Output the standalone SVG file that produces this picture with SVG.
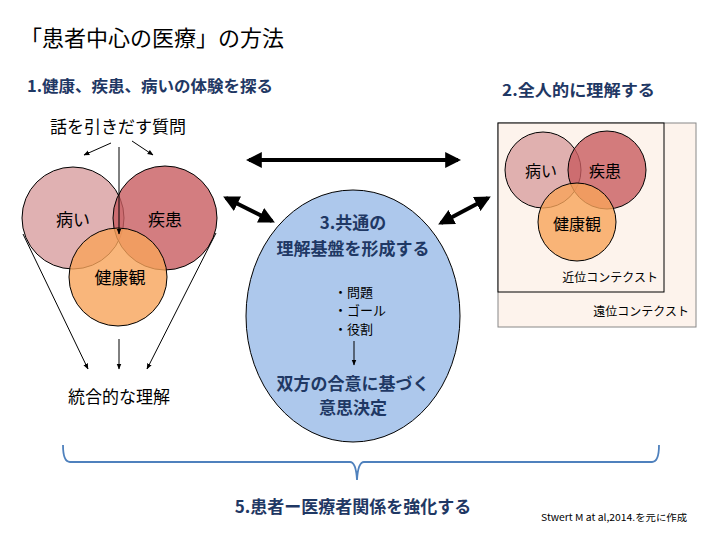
<svg xmlns="http://www.w3.org/2000/svg" width="720" height="540" viewBox="0 0 720 540">
<defs>
<style>
text{font-family:"Noto Sans CJK JP","Liberation Sans",sans-serif;}
.t{font-size:22px;fill:#000;}
.h{font-size:17px;font-weight:bold;fill:#1f3864;}
.b{font-size:17px;fill:#000;}
.r{font-size:16px;fill:#000;}
.s{font-size:13px;fill:#000;}
.c{font-size:12px;fill:#000;}
.thin{stroke:#000;stroke-width:1;fill:none;}
.thick{stroke:#000;stroke-width:4;fill:none;}
.ill{fill:#dba3a5;fill-opacity:0.85;stroke:#000;stroke-width:1;}
.dis{fill:#c85d60;fill-opacity:0.8;stroke:#000;stroke-width:1;}
.hea{fill:#f8a45a;fill-opacity:0.8;stroke:#000;stroke-width:1;}
</style>
<marker id="a" viewBox="0 0 10 10" refX="9" refY="5" markerWidth="6" markerHeight="6" orient="auto-start-reverse"><path d="M0,1 L10,5 L0,9 z" fill="#000"/></marker>
<marker id="A" viewBox="0 0 10 10" refX="8" refY="5" markerWidth="4" markerHeight="4" orient="auto-start-reverse"><path d="M0,0 L10,5 L0,10 z" fill="#000"/></marker>
</defs>
<rect width="720" height="540" fill="#fff"/>

<g id="title"><text class="t" x="20" y="46">「患者中心の医療」の方法</text></g>
<g id="head1"><text class="h" x="27" y="92" style="font-size:16px" textLength="246" lengthAdjust="spacingAndGlyphs">1.健康、疾患、病いの体験を探る</text></g>
<g id="head2"><text class="h" x="502" y="96" style="font-size:16px" textLength="153" lengthAdjust="spacingAndGlyphs">2.全人的に理解する</text></g>

<g id="question"><text class="b" x="118" y="133" text-anchor="middle">話を引きだす質問</text></g>

<g id="left-venn">
<circle class="ill" cx="73" cy="218" r="51"/>
<circle class="dis" cx="165" cy="218" r="52"/>
<circle class="hea" cx="118" cy="277" r="49"/>
<text class="b" x="73" y="226" text-anchor="middle">病い</text>
<text class="b" x="165" y="226" text-anchor="middle">疾患</text>
<text class="b" x="120" y="284" text-anchor="middle">健康観</text>
</g>

<g id="integrated"><text class="b" x="119" y="403" text-anchor="middle">統合的な理解</text></g>

<g id="center">
<ellipse cx="353" cy="316" rx="107" ry="126" fill="#adc8ec" stroke="#000" stroke-width="1"/>
<text class="h" x="353" y="229" text-anchor="middle">3.共通の</text>
<text class="h" x="353" y="255" text-anchor="middle">理解基盤を形成する</text>
<text class="s" x="334" y="297">・問題</text>
<text class="s" x="334" y="315">・ゴール</text>
<text class="s" x="334" y="334">・役割</text>
<text class="h" x="353" y="390" text-anchor="middle">双方の合意に基づく</text>
<text class="h" x="353" y="414" text-anchor="middle">意思決定</text>
</g>

<g id="context">
<rect x="498" y="123" width="198" height="204" fill="#fdf3ec" stroke="#888" stroke-width="1"/>
<rect x="498" y="123" width="166" height="169" fill="#fdf3ec" stroke="#000" stroke-width="1"/>
<circle class="ill" cx="543" cy="170" r="38"/>
<circle class="dis" cx="607" cy="170" r="39"/>
<circle class="hea" cx="577" cy="222" r="39"/>
<text class="r" x="541" y="177" text-anchor="middle">病い</text>
<text class="r" x="605" y="177" text-anchor="middle">疾患</text>
<text class="r" x="577" y="230" text-anchor="middle">健康観</text>
<text class="c" x="658" y="282" text-anchor="end">近位コンテクスト</text>
<text class="c" x="689" y="316" text-anchor="end">遠位コンテクスト</text>
</g>

<g id="connectors">
<line class="thin" x1="111" y1="143" x2="84" y2="155" marker-end="url(#a)"/>
<line class="thin" x1="132" y1="141" x2="153" y2="155" marker-end="url(#a)"/>
<line class="thin" x1="119" y1="147" x2="119" y2="234" marker-end="url(#a)"/>
<line class="thin" x1="23" y1="234" x2="88" y2="369" marker-end="url(#a)"/>
<line class="thin" x1="119" y1="339" x2="119" y2="369" marker-end="url(#a)"/>
<line class="thin" x1="216" y1="233" x2="147" y2="369" marker-end="url(#a)"/>
<line class="thin" x1="354" y1="341" x2="354" y2="365" marker-end="url(#a)"/>
<line class="thick" x1="249" y1="160" x2="458" y2="160" marker-start="url(#A)" marker-end="url(#A)"/>
<line class="thick" x1="226" y1="198" x2="272" y2="221" marker-start="url(#A)" marker-end="url(#A)"/>
<line class="thick" x1="488" y1="198" x2="441" y2="223" marker-start="url(#A)" marker-end="url(#A)"/>
</g>

<g id="brace">
<path d="M63,445 Q63,462 70,462 L350,462 Q356,462 357,480 Q358,462 364,462 L652,462 Q659,462 659,445" fill="none" stroke="#4f81bd" stroke-width="1.8"/>
</g>

<g id="head5"><text class="h" x="353" y="513" text-anchor="middle">5.患者ー医療者関係を強化する</text></g>
<g id="source"><text x="541" y="521" style="font-size:9.5px" fill="#000" textLength="146" lengthAdjust="spacingAndGlyphs">Stwert M at al,2014.を元に作成</text></g>
</svg>
